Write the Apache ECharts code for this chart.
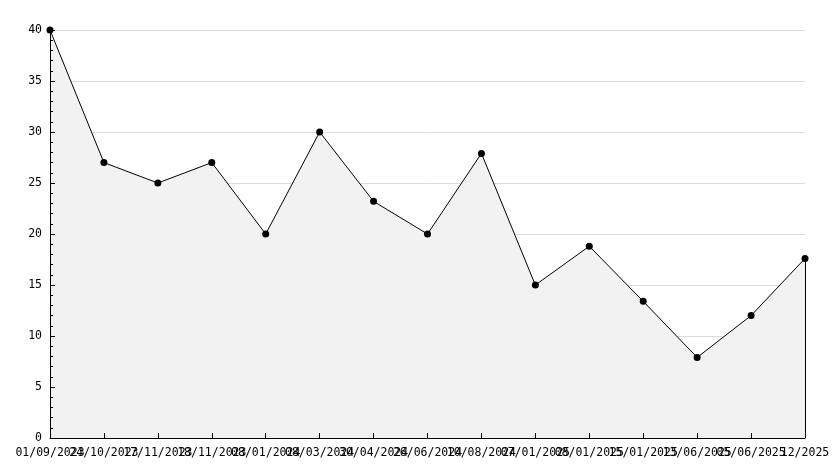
<!DOCTYPE html>
<html>
<head>
<meta charset="utf-8">
<script src="https://cdn.jsdelivr.net/npm/echarts@6/dist/echarts.min.js"></script>
<style>
  html, body { margin: 0; padding: 0; background: #fff; }
  #chart { width: 834px; height: 468px; }
</style>
</head>
<body>
<div id="chart"></div>
<script>
// dates on the x axis (as printed)
var dates = ['01/09/2023', '24/10/2023', '17/11/2023', '18/11/2023', '08/01/2024',
    '08/03/2024', '30/04/2024', '26/06/2024', '10/08/2024', '07/01/2025',
    '08/01/2025', '15/01/2025', '13/06/2025', '05/06/2025', '12/2025'];
var values = [40, 27, 25, 27, 20, 30, 23.2, 20, 27.9, 15, 18.8, 13.4, 7.9, 12, 17.6];

var font = 'DejaVu Sans Mono';
var chart = echarts.init(document.getElementById('chart'));

var lastIdx = values.length - 1;

chart.setOption({
    animation: false,
    grid: { left: 50, right: 29, top: 30, bottom: 30, containLabel: false },
    xAxis: {
        type: 'category',
        data: dates,
        boundaryGap: false,
        z: 5,
        axisLine: { lineStyle: { color: '#000', width: 1 } },
        axisTick: { inside: true, length: 5, alignWithLabel: true, interval: 0, lineStyle: { color: '#000' } },
        axisLabel: { interval: 0, color: '#000', fontFamily: font, fontSize: 11.5, margin: 9, hideOverlap: false },
        splitLine: { show: false }
    },
    yAxis: [{
        // grid lines only, stays under the area
        type: 'value',
        position: 'left',
        min: 0,
        max: 40,
        interval: 5,
        z: 0,
        axisLine: { show: false },
        axisTick: { show: false },
        axisLabel: { show: false },
        splitLine: { show: true, lineStyle: { color: '#dcdcdc', width: 1 } }
    }, {
        // axis line, ticks, labels on top
        type: 'value',
        position: 'left',
        offset: 0,
        min: 0,
        max: 40,
        interval: 5,
        z: 5,
        axisLine: { show: true, lineStyle: { color: '#000', width: 1 } },
        axisTick: { show: true, inside: true, length: 5, lineStyle: { color: '#000' } },
        minorTick: { show: true, splitNumber: 5, length: 3, lineStyle: { color: '#000' } },
        axisLabel: { color: '#000', fontFamily: font, fontSize: 11.5, margin: 8 },
        splitLine: { show: false }
    }],
    series: [{
        type: 'line',
        data: values,
        yAxisIndex: 0,
        z: 2,
        symbol: 'circle',
        symbolSize: 7,
        itemStyle: { color: '#000' },
        lineStyle: { color: '#000', width: 1 },
        areaStyle: { color: '#f2f2f2', opacity: 1 },
        markLine: {
            silent: true,
            symbol: 'none',
            label: { show: false },
            lineStyle: { color: '#000', width: 1, type: 'solid' },
            data: [[
                { coord: [lastIdx, values[lastIdx]] },
                { coord: [lastIdx, 0] }
            ]]
        }
    }]
});
</script>
</body>
</html>
